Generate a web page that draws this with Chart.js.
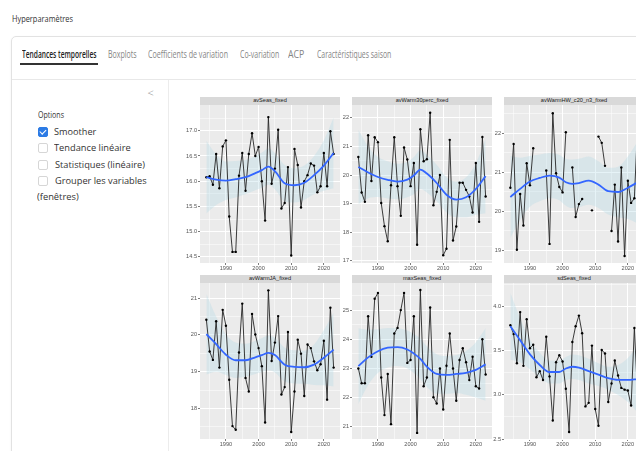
<!DOCTYPE html>
<html lang="fr">
<head>
<meta charset="utf-8">
<title>Hyperparamètres</title>
<script src="https://cdn.jsdelivr.net/npm/chart.js@4.4.1/dist/chart.umd.min.js"></script>
<style>
  html, body { margin: 0; padding: 0; width: 636px; height: 451px; overflow: hidden; background: #fff;
    font-family: "Open Sans", "Noto Sans", sans-serif; }
  .t { position: absolute; white-space: nowrap; transform-origin: 0 50%; line-height: 12px; }
  #pageTitle { left: 12px; top: 12.5px; font-size: 9.5px; color: #333; }
  .card { position: absolute; left: 11px; top: 36px; width: 720px; height: 520px; border: 1px solid #e2e2e2;
    border-radius: 5px; box-shadow: 0 1px 3px rgba(0,0,0,0.05); box-sizing: border-box; }
  .sep { position: absolute; left: 12px; top: 79px; width: 720px; height: 1px; background: #e8e8e8; }
  .vdiv { position: absolute; left: 168px; top: 80px; width: 1px; height: 400px; background: #ececec; }
  .tab { top: 47.5px; font-size: 10px; color: #858585; }
  .tab.active { color: #222; font-weight: 600; }
  .uline { position: absolute; left: 20px; top: 63px; width: 78px; height: 2px; background: #333; }
  .side { font-size: 9.5px; color: #333; }
  .cb { position: absolute; left: 37.5px; width: 10px; height: 10px; border: 1px solid #d6d6d6; border-radius: 2px;
    background: #fff; box-sizing: border-box; }
  .cb.on { background: #2c7be5; border-color: #2c7be5; }
  .cb.on::after { content: ""; position: absolute; left: 2.6px; top: 0.6px; width: 2.6px; height: 5px;
    border: solid #fff; border-width: 0 1.3px 1.3px 0; transform: rotate(45deg); }
  .strip { position: absolute; background: #d9d9d9; color: #1a1a1a; font-family: "Liberation Sans", Arial, sans-serif;
    font-size: 5.6px; text-align: center; overflow: hidden; white-space: nowrap; }
  canvas { position: absolute; }
</style>
</head>
<body>
<div id="pageTitle" class="t" data-w="61">Hyperparamètres</div>
<div class="card"></div>
<div class="sep"></div>
<div class="vdiv"></div>

<div class="t tab active" style="left:21.5px" data-w="74.5">Tendances temporelles</div>
<div class="t tab" style="left:108.3px" data-w="28.7">Boxplots</div>
<div class="t tab" style="left:148.3px" data-w="80">Coefficients de variation</div>
<div class="t tab" style="left:240px" data-w="39.3">Co-variation</div>
<div class="t tab" style="left:287.7px" data-w="16.3">ACP</div>
<div class="t tab" style="left:316.7px" data-w="74.3">Caractéristiques saison</div>
<div class="uline"></div>

<div class="t" style="left:147.5px;top:86.5px;font-size:11px;color:#8c8c8c;font-weight:300">&lt;</div>
<div class="t side" style="left:37.7px;top:108.5px" data-w="26">Options</div>
<div class="cb on" style="top:126.5px"></div>
<div class="t side" style="left:54.3px;top:125.5px" data-w="42.3">Smoother</div>
<div class="cb" style="top:143px"></div>
<div class="t side" style="left:54.3px;top:142px" data-w="76.7">Tendance linéaire</div>
<div class="cb" style="top:159.5px"></div>
<div class="t side" style="left:55px;top:159px" data-w="90">Statistiques (linéaire)</div>
<div class="cb" style="top:176px"></div>
<div class="t side" style="left:55px;top:175px" data-w="91.7">Grouper les variables</div>
<div class="t side" style="left:37.3px;top:190.5px" data-w="41.7">(fenêtres)</div>

<div id="plots"></div>

<script>
// Years of the series
const years = [1984, 1985, 1986, 1987, 1988, 1989, 1990, 1991, 1992, 1993,
               1994, 1995, 1996, 1997, 1998, 1999, 2000, 2001, 2002, 2003,
               2004, 2005, 2006, 2007, 2008, 2009, 2010, 2011, 2012, 2013,
               2014, 2015, 2016, 2017, 2018, 2019, 2020, 2021, 2022, 2023];

const panelTitles = ['avSeas_fixed', 'avWarm30perc_fixed', 'avWarmHW_c20_n3_fixed',
                     'avWarmJA_fixed', 'maxSeas_fixed', 'sdSeas_fixed'];

// Yearly values of each variable (null = missing year)
const avSeas = [16.08, 16.10, 15.93, 16.54, 15.86, 16.69, 16.81, 15.30, 14.60, 14.60,
                16.11, 16.56, 15.81, 16.54, 16.95, 16.50, 16.68, 16.00, 15.22, 17.27,
                15.95, 16.25, 17.02, 15.46, 15.57, 16.28, 14.53, 16.64, 16.32, 15.48,
                16.00, 16.12, 16.35, 16.31, 15.78, 15.90, 16.56, 15.90, 16.99, 16.54];
const avWarm30perc = [20.63, 19.39, 19.06, 21.39, 19.79, 21.32, 21.15, 19.02, 18.21, 17.68,
                      19.64, 21.32, 19.61, 18.57, 20.96, 20.54, 19.61, 20.42, 17.56, 21.60,
                      20.48, 20.55, 22.18, 18.94, 19.41, 20.00, 17.19, 17.42, 21.23, 17.71,
                      18.20, 19.73, 19.73, 19.48, 19.25, 18.69, 20.42, 18.36, 21.33, 19.25];
const avWarmHW = [20.60, 21.72, 19.01, 20.44, 19.63, 21.23, 20.66, 21.61, null, null,
                  null, 21.04, 19.16, 22.51, 20.97, 20.62, 20.48, 22.02, null, 21.12,
                  19.85, 20.18, 20.31, null, null, 20.02, null, 21.91, 21.75, 21.16,
                  null, 19.49, 20.68, 19.22, 21.12, 18.85, 20.78, 20.21, 20.33, 22.21];
const avWarmJA = [20.41, 19.55, 19.32, 20.37, 19.11, 20.68, 20.25, 18.78, 17.52, 17.42,
                  19.52, 20.85, 18.83, 18.46, 20.57, 20.01, 19.64, 19.15, 17.62, 21.21,
                  19.29, 19.79, 20.51, 18.38, 18.58, 20.08, 17.36, 18.46, 19.87, 19.49,
                  18.34, 19.74, 19.64, 19.28, 19.04, 19.20, 19.84, 18.24, 20.74, 19.11];
const maxSeas = [23.00, 22.49, 22.49, 24.79, 23.40, 25.39, 25.59, 22.69, 21.40, 22.81,
                 21.09, 24.20, 24.39, 25.00, 25.59, 23.19, 23.29, 24.79, 20.79, 25.69,
                 22.39, 22.69, 25.09, 22.01, 21.80, 23.00, 21.59, 23.09, 24.20, 23.00,
                 21.89, 23.29, 23.69, 23.21, 22.60, 23.40, 22.39, 22.31, 24.00, 22.79];
const sdSeas = [3.79, 3.69, 3.36, 3.94, 3.33, 3.86, 3.53, 3.57, 3.20, 3.27,
                3.17, 3.66, 3.21, 2.71, 3.37, 3.45, 3.38, 3.07, 2.58, 3.60,
                3.78, 3.90, 3.70, 2.87, 2.91, 3.56, 2.84, 2.65, 3.51, 3.47,
                2.92, 3.13, 3.39, 3.22, 3.08, 3.06, 3.05, 2.88, 3.76, 2.98];

// Smoother curve and its confidence band, sampled at these years
const fitYears = [1984, 1987, 1990, 1993, 1996, 1999, 2001, 2003, 2005, 2008, 2011, 2014, 2017, 2020, 2023];

const avSeasFit  = [16.08, 16.03, 16.01, 16.04, 16.08, 16.16, 16.22, 16.29, 16.20, 15.96, 15.92, 15.97, 16.12, 16.31, 16.56];
const avSeasHigh = [16.80, 16.53, 16.39, 16.40, 16.42, 16.50, 16.57, 16.65, 16.56, 16.32, 16.26, 16.31, 16.50, 16.81, 17.26];
const avSeasLow  = [15.36, 15.53, 15.63, 15.68, 15.74, 15.82, 15.87, 15.93, 15.84, 15.60, 15.58, 15.63, 15.74, 15.81, 15.86];

const avWarm30Fit  = [20.28, 20.09, 19.93, 19.83, 19.77, 19.84, 19.98, 20.19, 20.05, 19.72, 19.31, 19.14, 19.22, 19.51, 19.96];
const avWarm30High = [21.58, 20.99, 20.63, 20.48, 20.39, 20.46, 20.63, 20.87, 20.71, 20.36, 19.93, 19.76, 19.92, 20.41, 21.26];
const avWarm30Low  = [18.98, 19.19, 19.23, 19.18, 19.15, 19.22, 19.33, 19.51, 19.39, 19.08, 18.69, 18.52, 18.52, 18.61, 18.66];

const avWarmHWFit  = [20.36, 20.57, 20.76, 20.85, 20.91, 20.86, 20.74, 20.70, 20.72, 20.78, 20.68, 20.51, 20.49, 20.60, 20.74];
const avWarmHWHigh = [21.41, 21.37, 21.41, 21.45, 21.49, 21.44, 21.34, 21.32, 21.34, 21.40, 21.28, 21.11, 21.14, 21.40, 21.79];
const avWarmHWLow  = [19.31, 19.77, 20.11, 20.25, 20.33, 20.28, 20.14, 20.08, 20.10, 20.16, 20.08, 19.91, 19.84, 19.80, 19.69];

const avWarmJAFit  = [20.02, 19.75, 19.46, 19.31, 19.31, 19.39, 19.45, 19.51, 19.45, 19.19, 19.13, 19.12, 19.19, 19.38, 19.60];
const avWarmJAHigh = [21.12, 20.50, 20.01, 19.79, 19.76, 19.84, 19.91, 19.98, 19.92, 19.65, 19.58, 19.57, 19.74, 20.13, 20.60];
const avWarmJALow  = [18.92, 19.00, 18.91, 18.83, 18.86, 18.94, 18.99, 19.04, 18.98, 18.73, 18.68, 18.67, 18.64, 18.63, 18.60];

const maxSeasFit  = [23.08, 23.38, 23.59, 23.71, 23.73, 23.65, 23.51, 23.33, 23.06, 22.81, 22.78, 22.81, 22.85, 22.95, 23.14];
const maxSeasHigh = [24.38, 24.33, 24.34, 24.39, 24.38, 24.30, 24.18, 24.03, 23.76, 23.49, 23.43, 23.46, 23.60, 23.90, 24.39];
const maxSeasLow  = [21.78, 22.43, 22.84, 23.03, 23.08, 23.00, 22.84, 22.63, 22.36, 22.13, 22.13, 22.16, 22.10, 22.00, 21.89];

const sdSeasFit  = [3.78, 3.62, 3.46, 3.34, 3.26, 3.26, 3.30, 3.32, 3.31, 3.27, 3.23, 3.19, 3.17, 3.17, 3.18];
const sdSeasHigh = [4.16, 3.87, 3.63, 3.48, 3.39, 3.39, 3.43, 3.46, 3.45, 3.41, 3.36, 3.32, 3.34, 3.42, 3.56];
const sdSeasLow  = [3.40, 3.37, 3.29, 3.20, 3.13, 3.13, 3.17, 3.18, 3.17, 3.13, 3.10, 3.06, 3.00, 2.92, 2.80];

// Axis breaks
const xMajorTicks = [1990, 2000, 2010, 2020];
const xMinorTicks = [1985, 1995, 2005, 2015];
const xRange = [1982.05, 2024.95];

const avSeasTicks     = [14.5, 15.0, 15.5, 16.0, 16.5, 17.0];
const avSeasMinor     = [14.75, 15.25, 15.75, 16.25, 16.75, 17.25];
const avWarm30Ticks   = [17, 18, 19, 20, 21, 22];
const avWarm30Minor   = [17.5, 18.5, 19.5, 20.5, 21.5];
const avWarmHWTicks   = [19, 20, 21, 22];
const avWarmHWMinor   = [19.5, 20.5, 21.5, 22.5];
const avWarmJATicks   = [18, 19, 20, 21];
const avWarmJAMinor   = [17.5, 18.5, 19.5, 20.5];
const maxSeasTicks    = [21, 22, 23, 24, 25];
const maxSeasMinor    = [21.5, 22.5, 23.5, 24.5, 25.5];
const sdSeasTicks     = [2.5, 3.0, 3.5, 4.0];
const sdSeasMinor     = [2.75, 3.25, 3.75, 4.25];

const yRanges = [[14.38, 17.51], [16.92, 22.45], [18.67, 22.72],
                 [17.17, 21.41], [20.58, 25.93], [2.50, 4.27]];

const panels = [
  { title: panelTitles[0], values: avSeas,       fit: avSeasFit,   low: avSeasLow,   high: avSeasHigh,   major: avSeasTicks,   minor: avSeasMinor,   digits: 1, range: yRanges[0] },
  { title: panelTitles[1], values: avWarm30perc, fit: avWarm30Fit, low: avWarm30Low, high: avWarm30High, major: avWarm30Ticks, minor: avWarm30Minor, digits: 0, range: yRanges[1] },
  { title: panelTitles[2], values: avWarmHW,     fit: avWarmHWFit, low: avWarmHWLow, high: avWarmHWHigh, major: avWarmHWTicks, minor: avWarmHWMinor, digits: 0, range: yRanges[2] },
  { title: panelTitles[3], values: avWarmJA,     fit: avWarmJAFit, low: avWarmJALow, high: avWarmJAHigh, major: avWarmJATicks, minor: avWarmJAMinor, digits: 0, range: yRanges[3] },
  { title: panelTitles[4], values: maxSeas,      fit: maxSeasFit,  low: maxSeasLow,  high: maxSeasHigh,  major: maxSeasTicks,  minor: maxSeasMinor,  digits: 0, range: yRanges[4] },
  { title: panelTitles[5], values: sdSeas,       fit: sdSeasFit,   low: sdSeasLow,   high: sdSeasHigh,   major: sdSeasTicks,   minor: sdSeasMinor,   digits: 1, range: yRanges[5] }
];

// Facet grid geometry (plot area of each panel)
const Y_AXIS_W = 30, X_AXIS_H = 12, PANEL_W = 140, STRIP_H = 7.6;
const colLeft = [200, 352, 504];
const rowTop = [105, 283];
const rowHeight = [158, 156];

const AXIS_FONT = { family: 'Liberation Sans, Arial, sans-serif', size: 5.6 };
const AXIS_TEXT = '#555';

const panelBackground = {
  id: 'panelBackground',
  beforeDraw(chart) {
    const { ctx, chartArea: a } = chart;
    ctx.save();
    ctx.fillStyle = '#ebebeb';
    ctx.fillRect(a.left, a.top, a.right - a.left, a.bottom - a.top);
    ctx.restore();
  }
};

function isIn(list, v) { return list.some(t => Math.abs(t - v) < 1e-6); }

function buildPanel(p, i) {
  const col = i % 3, row = Math.floor(i / 3);
  const left = colLeft[col], top = rowTop[row], h = rowHeight[row];
  const host = document.getElementById('plots');

  const strip = document.createElement('div');
  strip.className = 'strip';
  strip.style.left = left + 'px';
  strip.style.top = (top - STRIP_H) + 'px';
  strip.style.width = PANEL_W + 'px';
  strip.style.height = STRIP_H + 'px';
  strip.style.lineHeight = STRIP_H + 'px';
  strip.textContent = p.title;
  host.appendChild(strip);

  const cv = document.createElement('canvas');
  cv.width = Y_AXIS_W + PANEL_W;
  cv.height = h + X_AXIS_H;
  cv.style.left = (left - Y_AXIS_W) + 'px';
  cv.style.top = top + 'px';
  host.appendChild(cv);

  const pts = years.map((y, k) => ({ x: y, y: p.values[k] }));
  const fitPts = arr => fitYears.map((y, k) => ({ x: y, y: arr[k] }));
  const yTicks = p.major.concat(p.minor).sort((a, b) => a - b);
  const xTicks = xMajorTicks.concat(xMinorTicks).sort((a, b) => a - b);

  new Chart(cv.getContext('2d'), {
    type: 'line',
    data: {
      datasets: [
        { data: fitPts(p.high), fill: '+1', backgroundColor: 'rgba(173,216,230,0.3)', borderWidth: 0,
          pointRadius: 0, cubicInterpolationMode: 'monotone', order: 3 },
        { data: fitPts(p.low), fill: false, borderWidth: 0, pointRadius: 0,
          cubicInterpolationMode: 'monotone', order: 4 },
        { data: pts, borderColor: '#262626', borderWidth: 0.9, pointRadius: 1.2, pointBorderWidth: 0,
          pointBackgroundColor: '#000', spanGaps: false, tension: 0, order: 2 },
        { data: fitPts(p.fit), borderColor: '#3366ff', borderWidth: 1.8, pointRadius: 0,
          cubicInterpolationMode: 'monotone', order: 1 }
      ]
    },
    options: {
      responsive: false,
      animation: false,
      devicePixelRatio: 1,
      layout: { padding: 0, autoPadding: false },
      events: [],
      plugins: { legend: { display: false }, tooltip: { enabled: false }, title: { display: false } },
      scales: {
        x: {
          type: 'linear', min: xRange[0], max: xRange[1],
          afterBuildTicks: ax => { ax.ticks = xTicks.map(v => ({ value: v })); },
          afterFit: ax => { ax.height = X_AXIS_H; ax.paddingLeft = 0; ax.paddingRight = 0; },
          border: { display: false },
          grid: {
            color: '#ffffff',
            lineWidth: c => (c.tick && isIn(xMajorTicks, c.tick.value)) ? 1 : 0.5,
            drawTicks: true, tickLength: 2, tickWidth: 0.7,
            tickColor: c => (c.tick && isIn(xMajorTicks, c.tick.value)) ? '#444' : 'rgba(0,0,0,0)'
          },
          ticks: {
            autoSkip: false, maxRotation: 0, minRotation: 0, padding: 0.5,
            font: AXIS_FONT, color: AXIS_TEXT,
            callback: v => isIn(xMajorTicks, v) ? String(v) : ''
          }
        },
        y: {
          type: 'linear', min: p.range[0], max: p.range[1],
          afterBuildTicks: ax => { ax.ticks = yTicks.map(v => ({ value: v })); },
          afterFit: ax => { ax.width = Y_AXIS_W; ax.paddingTop = 0; ax.paddingBottom = 0; },
          border: { display: false },
          grid: {
            color: '#ffffff',
            lineWidth: c => (c.tick && isIn(p.major, c.tick.value)) ? 1 : 0.5,
            drawTicks: true, tickLength: 2, tickWidth: 0.7,
            tickColor: c => (c.tick && isIn(p.major, c.tick.value)) ? '#444' : 'rgba(0,0,0,0)'
          },
          ticks: {
            autoSkip: false, padding: 1,
            font: AXIS_FONT, color: AXIS_TEXT,
            callback: v => isIn(p.major, v) ? Number(v).toFixed(p.digits) : ''
          }
        }
      }
    },
    plugins: [panelBackground]
  });
}

panels.forEach(buildPanel);

// Squeeze the interface labels to their column widths
document.querySelectorAll('[data-w]').forEach(el => {
  const w = el.getBoundingClientRect().width;
  if (w > 0) el.style.transform = 'scaleX(' + (parseFloat(el.dataset.w) / w) + ')';
});
</script>
</body>
</html>
